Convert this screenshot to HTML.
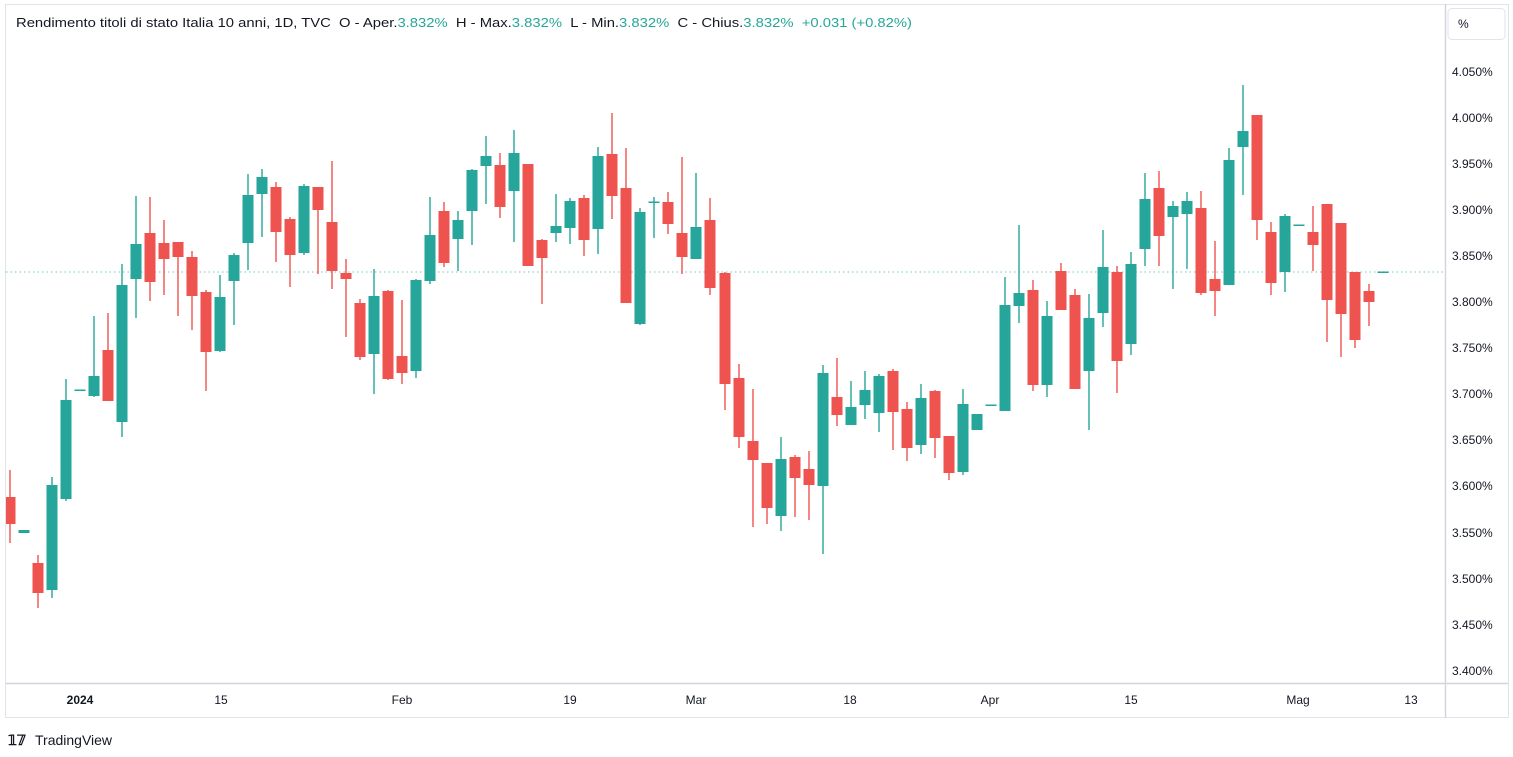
<!DOCTYPE html>
<html><head><meta charset="utf-8"><style>
body{margin:0;background:#fff;width:1513px;height:752px;overflow:hidden;font-family:"Liberation Sans",sans-serif}
.r{fill:#ef5350;stroke:#ef5350}.g{fill:#26a69a;stroke:#26a69a}
line{stroke-width:1.4}rect{stroke:none}
text{font-family:"Liberation Sans",sans-serif;white-space:pre}
</style></head><body>
<svg width="1513" height="752" xmlns="http://www.w3.org/2000/svg">
<rect x="5.5" y="4.5" width="1503" height="713" fill="none" stroke="#e0e3eb" style="stroke:#e0e3eb"/>
<line x1="1445.5" y1="4" x2="1445.5" y2="718" style="stroke:#d1d4dc" stroke-width="1"/>
<line x1="6" y1="683.5" x2="1508" y2="683.5" style="stroke:#d1d4dc" stroke-width="1"/>
<line x1="6" y1="272" x2="1445" y2="272" style="stroke:#9fd8d3" stroke-width="1" stroke-dasharray="1.5,3"/>
<rect x="1448" y="8.5" width="57" height="31" rx="4" fill="none" style="stroke:#e0e3eb" stroke-width="1"/>
<text x="1458" y="28" font-size="12" fill="#131722">%</text>
<g font-size="12" fill="#131722">
<text x="1452" y="76">4.050%</text><text x="1452" y="122">4.000%</text><text x="1452" y="168">3.950%</text><text x="1452" y="214">3.900%</text><text x="1452" y="260">3.850%</text><text x="1452" y="306">3.800%</text><text x="1452" y="352">3.750%</text><text x="1452" y="398">3.700%</text><text x="1452" y="444">3.650%</text><text x="1452" y="490">3.600%</text><text x="1452" y="537">3.550%</text><text x="1452" y="583">3.500%</text><text x="1452" y="629">3.450%</text><text x="1452" y="675">3.400%</text>
</g>
<g font-size="12" fill="#131722" text-anchor="middle">
<text x="80" y="704" font-weight="bold">2024</text><text x="221" y="704">15</text><text x="402" y="704">Feb</text><text x="570" y="704">19</text><text x="696" y="704">Mar</text><text x="850" y="704">18</text><text x="990" y="704">Apr</text><text x="1131" y="704">15</text><text x="1298" y="704">Mag</text><text x="1411" y="704">13</text>
</g>
<text x="16" y="27" font-size="13" fill="#131722" textLength="896" lengthAdjust="spacingAndGlyphs" xml:space="preserve">Rendimento titoli di stato Italia 10 anni, 1D, TVC  O - Aper.<tspan fill="#26a69a">3.832%</tspan>  H - Max.<tspan fill="#26a69a">3.832%</tspan>  L - Min.<tspan fill="#26a69a">3.832%</tspan>  C - Chius.<tspan fill="#26a69a">3.832%</tspan>  <tspan fill="#26a69a">+0.031 (+0.82%)</tspan></text>
<text x="8" y="745" font-size="14" font-weight="bold" fill="#131722">𝟙𝟟</text>
<text x="35" y="745" font-size="14" fill="#131722">TradingView</text>
<g>
<g class="r"><line x1="10" y1="470" x2="10" y2="543"/><rect x="6" y="497" width="9.5" height="27"/></g>
<g class="g"><rect x="18.5" y="530" width="11" height="3"/></g>
<g class="r"><line x1="38" y1="555" x2="38" y2="608"/><rect x="32.5" y="563" width="11" height="30"/></g>
<g class="g"><line x1="52" y1="477" x2="52" y2="598"/><rect x="46.5" y="485" width="11" height="105"/></g>
<g class="g"><line x1="66" y1="379" x2="66" y2="501"/><rect x="60.5" y="400" width="11" height="99"/></g>
<g class="g"><rect x="74.5" y="389.5" width="11" height="1.5"/></g>
<g class="g"><line x1="94" y1="316" x2="94" y2="397"/><rect x="88.5" y="376" width="11" height="20"/></g>
<g class="r"><line x1="108" y1="313" x2="108" y2="401"/><rect x="102.5" y="350" width="11" height="51"/></g>
<g class="g"><line x1="122" y1="264" x2="122" y2="437"/><rect x="116.5" y="285" width="11" height="137"/></g>
<g class="g"><line x1="136" y1="196" x2="136" y2="318"/><rect x="130.5" y="244" width="11" height="35"/></g>
<g class="r"><line x1="150" y1="197" x2="150" y2="301"/><rect x="144.5" y="233" width="11" height="49"/></g>
<g class="r"><line x1="164" y1="220" x2="164" y2="295"/><rect x="158.5" y="243" width="11" height="16"/></g>
<g class="r"><line x1="178" y1="242" x2="178" y2="316"/><rect x="172.5" y="242" width="11" height="15"/></g>
<g class="r"><line x1="192" y1="251" x2="192" y2="330"/><rect x="186.5" y="257" width="11" height="39"/></g>
<g class="r"><line x1="206" y1="290" x2="206" y2="391"/><rect x="200.5" y="292" width="11" height="60"/></g>
<g class="g"><line x1="220" y1="275" x2="220" y2="352"/><rect x="214.5" y="297" width="11" height="54"/></g>
<g class="g"><line x1="234" y1="253" x2="234" y2="325"/><rect x="228.5" y="255" width="11" height="26"/></g>
<g class="g"><line x1="248" y1="174" x2="248" y2="270"/><rect x="242.5" y="195" width="11" height="48"/></g>
<g class="g"><line x1="262" y1="169" x2="262" y2="237"/><rect x="256.5" y="177" width="11" height="17"/></g>
<g class="r"><line x1="276" y1="182" x2="276" y2="262"/><rect x="270.5" y="187" width="11" height="45"/></g>
<g class="r"><line x1="290" y1="217" x2="290" y2="287"/><rect x="284.5" y="219" width="11" height="36"/></g>
<g class="g"><line x1="304" y1="184" x2="304" y2="255"/><rect x="298.5" y="186" width="11" height="67"/></g>
<g class="r"><line x1="318" y1="187" x2="318" y2="274"/><rect x="312.5" y="187" width="11" height="23"/></g>
<g class="r"><line x1="332" y1="161" x2="332" y2="289"/><rect x="326.5" y="222" width="11" height="49"/></g>
<g class="r"><line x1="346" y1="259" x2="346" y2="337"/><rect x="340.5" y="273" width="11" height="6"/></g>
<g class="r"><line x1="360" y1="299" x2="360" y2="360"/><rect x="354.5" y="303" width="11" height="54"/></g>
<g class="g"><line x1="374" y1="269" x2="374" y2="394"/><rect x="368.5" y="296" width="11" height="58"/></g>
<g class="r"><line x1="388" y1="290" x2="388" y2="380"/><rect x="382.5" y="291" width="11" height="88"/></g>
<g class="r"><line x1="402" y1="300" x2="402" y2="384"/><rect x="396.5" y="356" width="11" height="17"/></g>
<g class="g"><line x1="416" y1="279" x2="416" y2="378"/><rect x="410.5" y="280" width="11" height="91"/></g>
<g class="g"><line x1="430" y1="197" x2="430" y2="284"/><rect x="424.5" y="235" width="11" height="46"/></g>
<g class="r"><line x1="444" y1="202" x2="444" y2="267"/><rect x="438.5" y="211" width="11" height="52"/></g>
<g class="g"><line x1="458" y1="211" x2="458" y2="271"/><rect x="452.5" y="220" width="11" height="19"/></g>
<g class="g"><line x1="472" y1="169" x2="472" y2="245"/><rect x="466.5" y="170" width="11" height="41"/></g>
<g class="g"><line x1="486" y1="136" x2="486" y2="204"/><rect x="480.5" y="156" width="11" height="10"/></g>
<g class="r"><line x1="500" y1="153" x2="500" y2="218"/><rect x="494.5" y="165" width="11" height="42"/></g>
<g class="g"><line x1="514" y1="130" x2="514" y2="242"/><rect x="508.5" y="153" width="11" height="38"/></g>
<g class="r"><rect x="522.5" y="164" width="11" height="102"/></g>
<g class="r"><line x1="542" y1="239" x2="542" y2="304"/><rect x="536.5" y="240" width="11" height="18"/></g>
<g class="g"><line x1="556" y1="194" x2="556" y2="242"/><rect x="550.5" y="226" width="11" height="7"/></g>
<g class="g"><line x1="570" y1="198" x2="570" y2="244"/><rect x="564.5" y="201" width="11" height="27"/></g>
<g class="r"><line x1="584" y1="195" x2="584" y2="256"/><rect x="578.5" y="198" width="11" height="42"/></g>
<g class="g"><line x1="598" y1="147" x2="598" y2="254"/><rect x="592.5" y="156" width="11" height="73"/></g>
<g class="r"><line x1="612" y1="113" x2="612" y2="219"/><rect x="606.5" y="154" width="11" height="42"/></g>
<g class="r"><line x1="626" y1="148" x2="626" y2="303"/><rect x="620.5" y="188" width="11" height="115"/></g>
<g class="g"><line x1="640" y1="208" x2="640" y2="325"/><rect x="634.5" y="212" width="11" height="112"/></g>
<g class="g"><line x1="654" y1="197" x2="654" y2="238"/><rect x="648.5" y="201.5" width="11" height="1.5"/></g>
<g class="r"><line x1="668" y1="192" x2="668" y2="234"/><rect x="662.5" y="202" width="11" height="22"/></g>
<g class="r"><line x1="682" y1="157" x2="682" y2="274"/><rect x="676.5" y="233" width="11" height="24"/></g>
<g class="g"><line x1="696" y1="173" x2="696" y2="259"/><rect x="690.5" y="227" width="11" height="32"/></g>
<g class="r"><line x1="710" y1="198" x2="710" y2="295"/><rect x="704.5" y="220" width="11" height="68"/></g>
<g class="r"><line x1="725" y1="272" x2="725" y2="410"/><rect x="719.5" y="273" width="11" height="111"/></g>
<g class="r"><line x1="739" y1="364" x2="739" y2="448"/><rect x="733.5" y="378" width="11" height="59"/></g>
<g class="r"><line x1="753" y1="389" x2="753" y2="527"/><rect x="747.5" y="441" width="11" height="19"/></g>
<g class="r"><line x1="767" y1="463" x2="767" y2="524"/><rect x="761.5" y="463" width="11" height="45"/></g>
<g class="g"><line x1="781" y1="437" x2="781" y2="531"/><rect x="775.5" y="459" width="11" height="57"/></g>
<g class="r"><line x1="795" y1="455" x2="795" y2="517"/><rect x="789.5" y="457" width="11" height="21"/></g>
<g class="r"><line x1="809" y1="451" x2="809" y2="520"/><rect x="803.5" y="469" width="11" height="16"/></g>
<g class="g"><line x1="823" y1="365" x2="823" y2="554"/><rect x="817.5" y="373" width="11" height="113"/></g>
<g class="r"><line x1="837" y1="358" x2="837" y2="426"/><rect x="831.5" y="397" width="11" height="18"/></g>
<g class="g"><line x1="851" y1="381" x2="851" y2="425"/><rect x="845.5" y="407" width="11" height="18"/></g>
<g class="g"><line x1="865" y1="371" x2="865" y2="419"/><rect x="859.5" y="390" width="11" height="15"/></g>
<g class="g"><line x1="879" y1="374" x2="879" y2="432"/><rect x="873.5" y="376" width="11" height="37"/></g>
<g class="r"><line x1="893" y1="369" x2="893" y2="450"/><rect x="887.5" y="371" width="11" height="41"/></g>
<g class="r"><line x1="907" y1="402" x2="907" y2="461"/><rect x="901.5" y="409" width="11" height="39"/></g>
<g class="g"><line x1="921" y1="384" x2="921" y2="454"/><rect x="915.5" y="398" width="11" height="47"/></g>
<g class="r"><line x1="935" y1="390" x2="935" y2="458"/><rect x="929.5" y="391" width="11" height="47"/></g>
<g class="r"><line x1="949" y1="436" x2="949" y2="480"/><rect x="943.5" y="436" width="11" height="37"/></g>
<g class="g"><line x1="963" y1="389" x2="963" y2="475"/><rect x="957.5" y="404" width="11" height="68"/></g>
<g class="g"><rect x="971.5" y="414" width="11" height="16"/></g>
<g class="g"><rect x="985.5" y="404.5" width="11" height="1.5"/></g>
<g class="g"><line x1="1005" y1="277" x2="1005" y2="411"/><rect x="999.5" y="305" width="11" height="106"/></g>
<g class="g"><line x1="1019" y1="225" x2="1019" y2="323"/><rect x="1013.5" y="293" width="11" height="13"/></g>
<g class="r"><line x1="1033" y1="280" x2="1033" y2="391"/><rect x="1027.5" y="290" width="11" height="95"/></g>
<g class="g"><line x1="1047" y1="301" x2="1047" y2="397"/><rect x="1041.5" y="316" width="11" height="69"/></g>
<g class="r"><line x1="1061" y1="263" x2="1061" y2="310"/><rect x="1055.5" y="271" width="11" height="39"/></g>
<g class="r"><line x1="1075" y1="289" x2="1075" y2="389"/><rect x="1069.5" y="295" width="11" height="94"/></g>
<g class="g"><line x1="1089" y1="294" x2="1089" y2="430"/><rect x="1083.5" y="318" width="11" height="53"/></g>
<g class="g"><line x1="1103" y1="230" x2="1103" y2="327"/><rect x="1097.5" y="267" width="11" height="46"/></g>
<g class="r"><line x1="1117" y1="266" x2="1117" y2="393"/><rect x="1111.5" y="272" width="11" height="89"/></g>
<g class="g"><line x1="1131" y1="252" x2="1131" y2="355"/><rect x="1125.5" y="264" width="11" height="80"/></g>
<g class="g"><line x1="1145" y1="173" x2="1145" y2="266"/><rect x="1139.5" y="199" width="11" height="50"/></g>
<g class="r"><line x1="1159" y1="171" x2="1159" y2="266"/><rect x="1153.5" y="188" width="11" height="48"/></g>
<g class="g"><line x1="1173" y1="201" x2="1173" y2="289"/><rect x="1167.5" y="206" width="11" height="11"/></g>
<g class="g"><line x1="1187" y1="192" x2="1187" y2="269"/><rect x="1181.5" y="201" width="11" height="13"/></g>
<g class="r"><line x1="1201" y1="191" x2="1201" y2="295"/><rect x="1195.5" y="208" width="11" height="85"/></g>
<g class="r"><line x1="1215" y1="241" x2="1215" y2="316"/><rect x="1209.5" y="279" width="11" height="12"/></g>
<g class="g"><line x1="1229" y1="148" x2="1229" y2="285"/><rect x="1223.5" y="160" width="11" height="125"/></g>
<g class="g"><line x1="1243" y1="85" x2="1243" y2="195"/><rect x="1237.5" y="131" width="11" height="16"/></g>
<g class="r"><line x1="1257" y1="115" x2="1257" y2="240"/><rect x="1251.5" y="115" width="11" height="105"/></g>
<g class="r"><line x1="1271" y1="222" x2="1271" y2="295"/><rect x="1265.5" y="232" width="11" height="51"/></g>
<g class="g"><line x1="1285" y1="214" x2="1285" y2="292"/><rect x="1279.5" y="216" width="11" height="56"/></g>
<g class="g"><rect x="1293.5" y="224.5" width="11" height="1.5"/></g>
<g class="r"><line x1="1313" y1="206" x2="1313" y2="271"/><rect x="1307.5" y="232" width="11" height="13"/></g>
<g class="r"><line x1="1327" y1="204" x2="1327" y2="342"/><rect x="1321.5" y="204" width="11" height="96"/></g>
<g class="r"><line x1="1341" y1="223" x2="1341" y2="357"/><rect x="1335.5" y="223" width="11" height="91"/></g>
<g class="r"><line x1="1355" y1="272" x2="1355" y2="348"/><rect x="1349.5" y="272" width="11" height="68"/></g>
<g class="r"><line x1="1369" y1="284" x2="1369" y2="326"/><rect x="1363.5" y="291" width="11" height="11"/></g>
<g class="g"><rect x="1377.5" y="271.5" width="11" height="1.5"/></g>
</g>
</svg>
</body></html>
